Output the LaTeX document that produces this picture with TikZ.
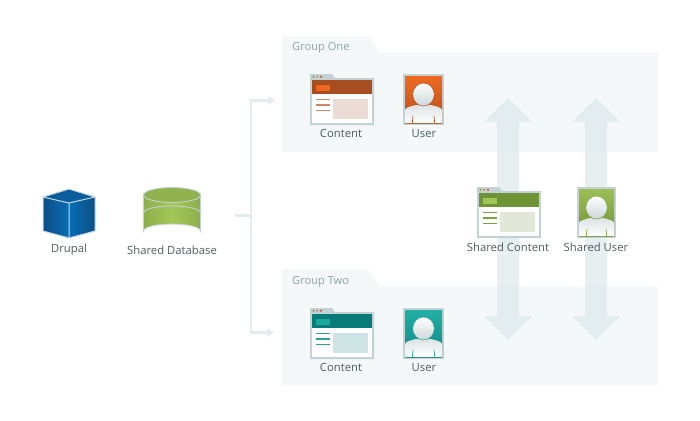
\documentclass[tikz,border=0pt]{standalone}
\usepackage{fontspec}
\usetikzlibrary{calc}
\setmainfont{Open Sans}
\definecolor{panel}{HTML}{F4F8F9}
\definecolor{flow}{HTML}{DCE7EA}
\definecolor{trunkC}{HTML}{E4ECEF}
\definecolor{frameC}{HTML}{C3D2D4}
\definecolor{labelC}{HTML}{4E5C60}
\definecolor{groupC}{HTML}{8FA3A7}
\definecolor{cubeEdge}{HTML}{C6D9E3}
\definecolor{dotG}{HTML}{7F9F45}
\definecolor{dotO}{HTML}{E8802C}
\definecolor{dotR}{HTML}{C4472E}
\definecolor{hA}{HTML}{A64E20}\definecolor{bA}{HTML}{F0661F}\definecolor{rA}{HTML}{EDDCD6}\definecolor{lA}{HTML}{C98A68}
\definecolor{uA}{HTML}{EE6A20}\definecolor{vA}{HTML}{B5501F}\definecolor{lB}{HTML}{B5501F}
\definecolor{hB}{HTML}{087B78}\definecolor{bB}{HTML}{1BA79C}\definecolor{rB}{HTML}{CFE4E4}\definecolor{lC}{HTML}{2AA198}
\definecolor{uB}{HTML}{23AFA5}\definecolor{vB}{HTML}{0E8A85}
\definecolor{hC}{HTML}{6F9438}\definecolor{bC}{HTML}{A0C556}\definecolor{rC}{HTML}{E1E8D8}\definecolor{lD}{HTML}{7DA03E}
\definecolor{uC}{HTML}{9CBE55}\definecolor{vC}{HTML}{6F9438}
\definecolor{cubeD}{HTML}{0B4F85}\definecolor{cubeL}{HTML}{0A6DB5}\definecolor{cubeT}{HTML}{0A5C9C}
\definecolor{bodyT}{HTML}{DCE4E6}\definecolor{headB}{HTML}{CCD7DA}
\definecolor{dbM}{HTML}{A3C757}\definecolor{dbD}{HTML}{8FAE4C}\definecolor{dbT}{HTML}{91B24C}
\tikzset{
  x=1pt,y=-1pt,
  lbl/.style={font=\fontsize{11.3}{13}\selectfont,text=labelC,inner sep=0pt,anchor=center},
  grouplbl/.style={font=\fontsize{11.1}{13}\selectfont,text=groupC,inner sep=0pt,anchor=west},
  panelshape/.style={fill=panel,draw=none},
  bigarrow/.style={fill=flow,draw=none,opacity=.68},
  trunkline/.style={draw=trunkC,line width=2.6pt},
  tiparrow/.style={fill=trunkC,draw=none},
}
\newcommand{\winicon}[6]{%
 \begin{scope}[shift={(#1,#2)}]
  \fill[frameC] (0,0) -- (22,0) -- (25,4) -- (64,4) -- (64,51) -- (0,51) -- cycle;
  \fill[white] (2,6) rectangle (62,49);
  \fill[#3] (2,6) rectangle (62,19.5);
  \fill[#4] (6,11) rectangle (20,16.5);
  \fill[#5] (23,25) rectangle (58,45);
  \fill[#6] (6,24.5) rectangle (20,26);
  \fill[#6] (6,30) rectangle (20,31.5);
  \fill[#6] (6,35.5) rectangle (20,37);
  \fill[dotG] (3.5,2.7) circle (1.1);
  \fill[dotO] (7.2,2.7) circle (1.1);
  \fill[dotR] (11,2.7) circle (1.1);
 \end{scope}}
\newcommand{\usericon}[6]{%
 \begin{scope}[shift={(#1,#2)}]
  \fill[frameC] (0,0) rectangle (#3,51);
  \shade[top color=#4,bottom color=#5] (2,2) rectangle ({#3-2},49);
  \begin{scope}
   \clip (2,2) rectangle ({#3-2},49);
   \shade[top color=bodyT,bottom color=white]
     (2,49) -- (2,36) .. controls (3,33) and (8,32.5) .. (13,31) -- ({#3-13},31)
     .. controls ({#3-8},32.5) and ({#3-3},33) .. ({#3-2},36) -- ({#3-2},49) -- cycle;
   \draw[#6,line width=.7pt] (9.3,49) -- (10,42);
   \draw[#6,line width=.7pt] ({#3-9.3},49) -- ({#3-10},42);
  \end{scope}
  \shade[top color=white,bottom color=headB,draw=#6,line width=.5pt] ({#3/2},20.5) ellipse[x radius=10.8,y radius=11.5];
 \end{scope}}
\begin{document}
\begin{tikzpicture}
\useasboundingbox (0,0) rectangle (700,420);
% panels
\fill[panelshape] (282,36) -- (368,36) -- (380,52) -- (658,52) -- (658,152) -- (282,152) -- cycle;
\fill[panelshape] (282,269) -- (368,269) -- (380,286) -- (658,286) -- (658,385) -- (282,385) -- cycle;
\node[grouplbl] (g1) at (292,48) {Group One};
\node[grouplbl] (g2) at (292,282) {Group Two};
% big double arrows
\fill[bigarrow] (508,98) -- (532,122) -- (519,122) -- (519,316) -- (532,316) -- (508,340) -- (484,316) -- (497,316) -- (497,122) -- (484,122) -- cycle;
\fill[bigarrow] (596,98) -- (620,122) -- (607,122) -- (607,316) -- (620,316) -- (596,340) -- (572,316) -- (585,316) -- (585,122) -- (572,122) -- cycle;
% connector
\coordinate (src) at (235,215.5);
\coordinate (junction) at (251,215.5);
\coordinate (topcorner) at (251,100.5);
\coordinate (botcorner) at (251,332.5);
\coordinate (toptip) at (275,100.5);
\coordinate (bottip) at (274,332.5);
\draw[trunkline] (src) -- (junction);
\draw[trunkline] ($(toptip)+(-6,0)$) -- (topcorner) -- (botcorner) -- ($(bottip)+(-6,0)$);
\fill[tiparrow] (toptip) -- ++(-7,-4.5) -- ++(0,9) -- cycle;
\fill[tiparrow] (bottip) -- ++(-7,-4.5) -- ++(0,9) -- cycle;
% cube
\shade[left color=cubeD,right color=cubeL] (43,197) -- (69,203) -- (69,238) -- (43,231) -- cycle;
\shade[left color=cubeL,right color=cubeD] (95,197) -- (69,203) -- (69,238) -- (95,231) -- cycle;
\fill[cubeT] (69,189) -- (95,197) -- (69,203) -- (43,197) -- cycle;
\draw[cubeEdge,line width=1pt,line join=round] (69,189) -- (95,197) -- (95,231) -- (69,238) -- (43,231) -- (43,197) -- cycle (43,197) -- (69,203) -- (95,197) (69,203) -- (69,238);
\node[lbl] (drupal) at (69,250) {Drupal};
% database
\shade[left color=dbD,right color=dbD,middle color=dbM] (143.5,195) -- (143.5,231) arc[start angle=180,end angle=360,x radius=28.5,y radius=7] -- (200.5,195) -- cycle;
\fill[dbT] (172,195) ellipse[x radius=28.5,y radius=7.5];
\draw[frameC,line width=.9pt] (172,195) ellipse[x radius=28.5,y radius=7.5];
\draw[frameC,line width=.9pt] (143.5,195) -- (143.5,231) arc[start angle=180,end angle=360,x radius=28.5,y radius=7] -- (200.5,195);
\draw[frameC,line width=.9pt] (143.5,213) arc[start angle=180,end angle=360,x radius=28.5,y radius=7];
\node[lbl] (db) at (172,250) {Shared Database};
% group one
\winicon{310}{74}{hA}{bA}{rA}{lA}
\usericon{403}{74}{41}{uA}{vA}{lB}
\node[lbl] (c1) at (341,133.5) {Content};
\node[lbl] (u1) at (424,133.5) {User};
% group two
\winicon{310}{308}{hB}{bB}{rB}{lC}
\usericon{403}{308}{41}{uB}{vB}{lC}
\node[lbl] (c2) at (341,367.5) {Content};
\node[lbl] (u2) at (424,367.5) {User};
% shared
\winicon{477}{187}{hC}{bC}{rC}{lD}
\usericon{577}{187}{39}{uC}{vC}{lD}
\node[lbl] (c3) at (508,247) {Shared Content};
\node[lbl] (u3) at (596,247) {Shared User};
\end{tikzpicture}
\end{document}
